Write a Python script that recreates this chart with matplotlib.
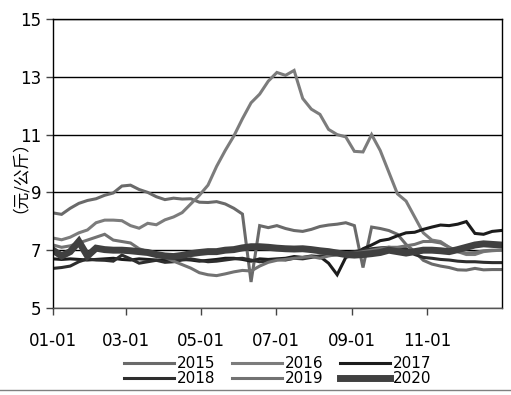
import numpy as np
import matplotlib.pyplot as plt
from matplotlib.lines import Line2D

plt.rcParams['font.family'] = ['DejaVu Sans']

# weekly samples, day offset from 01-01
days = np.arange(53) * 7

tick_days = [0, 59, 120, 181, 243, 304]
tick_labels = ['01-01', '03-01', '05-01', '07-01', '09-01', '11-01']

y2015 = [8.29, 8.24, 8.45, 8.62, 8.72, 8.78, 8.90, 8.98, 9.22, 9.25,
         9.10, 9.00, 8.85, 8.75, 8.80, 8.77, 8.78, 8.66, 8.65, 8.68,
         8.60, 8.45, 8.25, 5.90, 7.85, 7.78, 7.85, 7.75, 7.68, 7.65,
         7.72, 7.82, 7.87, 7.90, 7.95, 7.85, 6.40, 7.80, 7.75, 7.68,
         7.55, 7.20, 6.95, 6.65, 6.52, 6.45, 6.40, 6.32, 6.31, 6.37,
         6.32, 6.33, 6.33]

y2016 = [7.42, 7.36, 7.45, 7.60, 7.70, 7.95, 8.04, 8.04, 8.02, 7.85,
         7.76, 7.93, 7.88, 8.05, 8.15, 8.30, 8.60, 8.90, 9.25, 9.90,
         10.45, 10.95, 11.55, 12.10, 12.40, 12.85, 13.15, 13.05, 13.22, 12.25,
         11.88, 11.70, 11.18, 11.00, 10.92, 10.42, 10.40, 11.00, 10.45, 9.70,
         8.95, 8.70, 8.15, 7.60, 7.35, 7.30, 7.10, 6.95, 6.85, 6.85,
         6.95, 6.98, 7.00]

y2017 = [6.70, 6.68, 6.70, 6.68, 6.66, 6.68, 6.70, 6.72, 6.68, 6.66,
         6.70, 6.68, 6.66, 6.65, 6.70, 6.68, 6.66, 6.62, 6.65, 6.68,
         6.72, 6.72, 6.68, 6.62, 6.70, 6.68, 6.70, 6.72, 6.78, 6.75,
         6.80, 6.78, 6.55, 6.15, 6.75, 6.85, 7.05, 7.18, 7.33, 7.38,
         7.50, 7.60, 7.62, 7.72, 7.80, 7.87, 7.85, 7.90, 7.99, 7.58,
         7.55, 7.65, 7.68]

y2018 = [6.37, 6.40, 6.45, 6.60, 6.70, 6.66, 6.65, 6.62, 6.83, 6.70,
         6.55, 6.60, 6.65, 6.58, 6.60, 6.66, 6.70, 6.65, 6.60, 6.62,
         6.66, 6.70, 6.72, 6.66, 6.60, 6.62, 6.68, 6.66, 6.72, 6.70,
         6.75, 6.80, 6.82, 6.85, 6.90, 6.95, 7.00, 7.05, 7.08, 7.10,
         7.07, 7.05, 6.85, 6.75, 6.72, 6.68, 6.66, 6.62, 6.60, 6.60,
         6.58, 6.57, 6.57]

y2019 = [7.18, 7.10, 7.15, 7.25, 7.35, 7.45, 7.55, 7.35, 7.30, 7.25,
         7.05, 6.95, 6.85, 6.75, 6.62, 6.50, 6.38, 6.22, 6.15, 6.12,
         6.18, 6.25, 6.30, 6.28, 6.45, 6.58, 6.65, 6.68, 6.72, 6.75,
         6.78, 6.72, 6.80, 6.85, 6.88, 6.90, 6.95, 7.00, 7.05, 7.10,
         7.10, 7.15, 7.20, 7.30, 7.30, 7.25, 7.10, 6.95, 6.90, 6.92,
         6.98, 7.00, 7.00]

y2020 = [7.00, 6.80, 6.95, 7.30, 6.80, 7.07, 7.02, 7.00, 7.00, 6.98,
         6.95, 6.92, 6.85, 6.80, 6.78, 6.82, 6.88, 6.92, 6.95, 6.95,
         7.00, 7.02, 7.08, 7.12, 7.12, 7.10, 7.07, 7.05, 7.04, 7.05,
         7.02, 6.98, 6.95, 6.90, 6.85, 6.83, 6.85, 6.88, 6.92, 7.00,
         6.95, 6.90, 6.95, 7.00, 7.00, 6.98, 6.95, 7.02, 7.10, 7.18,
         7.22, 7.20, 7.18]

series = [('2015', y2015, '#6a6a6a', 2.2),
          ('2016', y2016, '#7c7c7c', 2.2),
          ('2017', y2017, '#1c1c1c', 2.2),
          ('2018', y2018, '#2e2e2e', 2.2),
          ('2019', y2019, '#727272', 2.2),
          ('2020', y2020, '#404040', 5.0)]

fig = plt.figure(figsize=(5.11, 3.95), dpi=100)
ax = fig.add_axes([0.1037, 0.2203, 0.8787, 0.7316])

lines = {}
for name, vals, col, lw in series:
    lines[name], = ax.plot(days, vals, color=col, lw=lw, label=name,
                           solid_joinstyle='miter')

ax.set_xlim(0, 365)
ax.set_ylim(5, 15)
ax.set_yticks([5, 7, 9, 11, 13, 15])
ax.set_xticks(tick_days)
ax.set_xticklabels(tick_labels)
ax.yaxis.grid(True, color='black', lw=1)
ax.set_axisbelow(True)
ax.tick_params(axis='both', direction='out', length=5, width=1, labelsize=12,
               color='#444444')
ax.tick_params(axis='x', pad=12)
for s in ax.spines.values():
    s.set_color('black')
    s.set_linewidth(1)
ax.spines['bottom'].set_color('#555555')

fig.text(0.022, 0.575, '（元/公斤）', rotation=90, ha='center', va='center',
         fontsize=12, family=['Noto Sans CJK SC', 'DejaVu Sans'])

# legend is filled column by column, so order it to read row by row
order = ['2015', '2018', '2016', '2019', '2017', '2020']
ax.legend([lines[k] for k in order], order, loc='upper center',
          bbox_to_anchor=(0.5, -0.14), ncol=3, frameon=False, fontsize=11,
          handlelength=3.3, handletextpad=0.15, columnspacing=1.1,
          labelspacing=0.0, borderpad=0)

fig.add_artist(Line2D([0, 1], [1 - 390 / 395, 1 - 390 / 395],
                      transform=fig.transFigure, color='#808080', lw=1))

fig.savefig('out.png', dpi=100)
